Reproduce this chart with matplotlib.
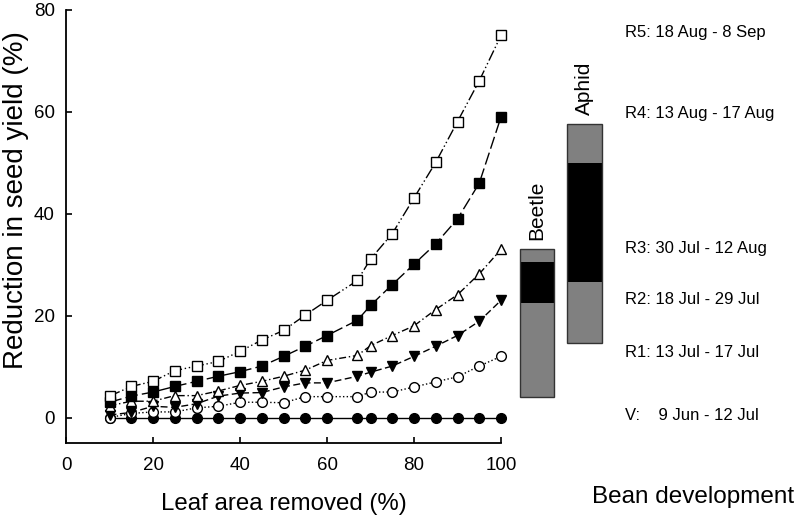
import numpy as np
import matplotlib
matplotlib.use('Agg')
import matplotlib.pyplot as plt

plt.rcParams['font.family'] = ['Liberation Sans', 'DejaVu Sans']

# leaf area removed (%)
leaf_removed = [10, 15, 20, 25, 30, 35, 40, 45, 50, 55, 60, 67, 70, 75, 80, 85, 90, 95, 100]

# reduction in seed yield (%) for defoliation at each bean stage
yield_v  = [0, 0, 0, 0, 0, 0, 0, 0, 0, 0, 0, 0, 0, 0, 0, 0, 0, 0, 0]
yield_r1 = [0, 0.8, 1.1, 1.1, 1.9, 2.2, 3.0, 3.0, 2.9, 4.1, 4.1, 4.1, 5.0, 5.0, 6.0, 7.0, 8.0, 10.1, 12.0]
yield_r2 = [0.5, 1.0, 2.2, 2.0, 2.7, 4.2, 4.8, 4.9, 6.0, 6.8, 6.8, 8.1, 8.9, 10.1, 12.0, 14.0, 16.1, 18.9, 23.0]
yield_r3 = [2.3, 3.2, 3.2, 4.3, 4.3, 5.2, 6.3, 7.1, 8.1, 9.3, 11.2, 12.2, 14.1, 16.1, 18.0, 21.2, 24.1, 28.2, 33.0]
yield_r4 = [3.0, 4.2, 5.0, 6.1, 7.1, 8.1, 9.0, 10.1, 12.0, 14.0, 16.1, 19.1, 22.0, 26.1, 30.1, 34.1, 39.0, 46.0, 59.0]
yield_r5 = [4.2, 6.1, 7.1, 9.2, 10.1, 11.0, 13.0, 15.2, 17.1, 20.1, 23.0, 26.9, 31.1, 36.1, 43.1, 50.1, 58.1, 66.1, 75.0]

stage_labels = ['V:    9 Jun - 12 Jul', 'R1: 13 Jul - 17 Jul', 'R2: 18 Jul - 29 Jul',
                'R3: 30 Jul - 12 Aug', 'R4: 13 Aug - 17 Aug', 'R5: 18 Aug - 8 Sep']
stage_pos = [0.4, 12.8, 23.1, 33.1, 59.6, 75.5]

# pest activity bars: (bottom, top) in y units, gray/black/gray
beetle_segments = [(4.1, 22.5), (22.5, 30.6), (30.6, 33.0)]
aphid_segments = [(14.6, 26.7), (26.7, 49.9), (49.9, 57.6)]
segment_colors = ['#808080', '#000000', '#808080']

W, H = 797, 515
fig = plt.figure(figsize=(W / 100, H / 100), dpi=100)
ax = fig.add_axes([66 / W, 1 - 443 / H, 435 / W, 433 / H])

series = [
    (yield_v,  dict(marker='o', mfc='black', ls='-')),
    (yield_r1, dict(marker='o', mfc='white', ls=':')),
    (yield_r2, dict(marker='v', mfc='black', ls=(0, (5, 2.5)))),
    (yield_r3, dict(marker='^', mfc='white', ls=(0, (5, 2, 1, 2)))),
    (yield_r4, dict(marker='s', mfc='black', ls=(0, (9, 3)))),
    (yield_r5, dict(marker='s', mfc='white', ls=(0, (8, 2, 1, 2, 1, 2)))),
]
for vals, style in series:
    ax.plot(leaf_removed, vals, color='black', lw=1, mec='black', ms=7, mew=1,
            clip_on=False, **style)

ax.set_xlim(0, 100)
ax.set_ylim(-5, 80)
ax.set_xticks([0, 20, 40, 60, 80, 100])
ax.set_yticks([0, 20, 40, 60, 80])
ax.spines['top'].set_visible(False)
ax.spines['right'].set_visible(False)
for s in ['left', 'bottom']:
    ax.spines[s].set_linewidth(1.3)
ax.tick_params(direction='in', length=4.5, width=1.2, labelsize=13.5)
ax.tick_params(axis='x', pad=10)
ax.tick_params(axis='y', pad=8)
ax.set_xlabel('Leaf area removed (%)', fontsize=17.3, labelpad=14)
ax.set_ylabel('Reduction in seed yield (%)', fontsize=20)
ax.yaxis.set_label_coords(-0.086, 0.56)

# right panel: bean stages and pest bars, sharing y scale
ax2 = fig.add_axes([505 / W, 1 - 443 / H, 292 / W, 433 / H], sharey=ax)
ax2.set_xlim(505, 797)
ax2.axis('off')

for segs, xc, wd in [(beetle_segments, 537, 34), (aphid_segments, 584, 35)]:
    for (b, t), c in zip(segs, segment_colors):
        ax2.bar(xc, t - b, bottom=b, width=wd, color=c, edgecolor='none')
    ax2.bar(xc, segs[-1][1] - segs[0][0], bottom=segs[0][0], width=wd,
            color='none', edgecolor='#333333', lw=1)

ax2.text(537, beetle_segments[-1][1] + 1.8, 'Beetle', rotation=90,
         ha='center', va='bottom', fontsize=15)
ax2.text(584, aphid_segments[-1][1] + 1.8, 'Aphid', rotation=90,
         ha='center', va='bottom', fontsize=15)

for lab, yv in zip(stage_labels, stage_pos):
    ax2.text(625, yv, lab, ha='left', va='center', fontsize=12)

fig.text(693 / W, 1 - 497 / H, 'Bean development', ha='center', va='center', fontsize=17.5)

fig.savefig('out.png', dpi=100)
